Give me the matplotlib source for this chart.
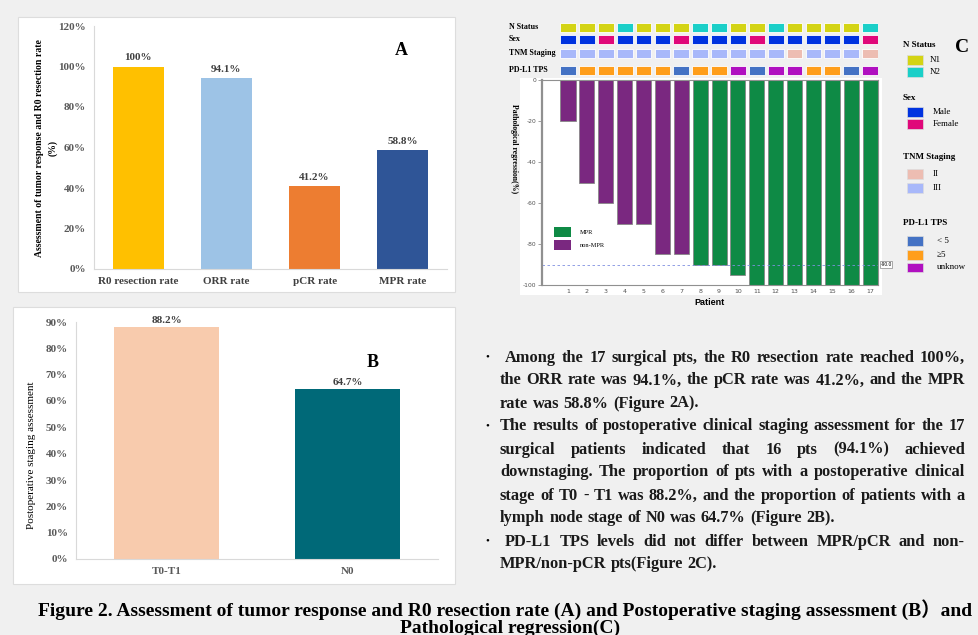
import matplotlib.pyplot as plt
from matplotlib.patches import Rectangle

plt.rcParams['axes.unicode_minus'] = False

W, H = 979, 635
SERIF = 'Liberation Serif'

# panel A data
a_labels = ['R0 resection rate', 'ORR rate', 'pCR rate', 'MPR rate']
a_values = [100, 94.1, 41.2, 58.8]
a_colors = ['#FFC000', '#9DC3E6', '#ED7D31', '#2F5597']

# panel B data
b_labels = ['T0-T1', 'N0']
b_values = [88.2, 64.7]
b_colors = ['#F8CBAD', '#006978']

# panel C data
patients = list(range(1, 18))
regression = [-20, -50, -60, -70, -70, -85, -85, -90, -90, -95,
              -100, -100, -100, -100, -100, -100, -100]
response = ['non-MPR'] * 7 + ['MPR'] * 10
n_status = ['N1', 'N1', 'N1', 'N2', 'N1', 'N1', 'N1', 'N2', 'N2', 'N1',
            'N1', 'N2', 'N1', 'N1', 'N1', 'N1', 'N2']
sex = ['Male', 'Male', 'Female', 'Male', 'Male', 'Male', 'Female', 'Male', 'Male',
       'Male', 'Female', 'Male', 'Male', 'Male', 'Male', 'Male', 'Female']
tnm = ['III'] * 12 + ['II'] + ['III'] * 3 + ['II']
pdl1 = ['<5', '≥5', '≥5', '≥5', '≥5', '≥5', '<5', '≥5', '≥5', 'unknow',
        '<5', 'unknow', 'unknow', '≥5', '≥5', '<5', 'unknow']

resp_colors = {'MPR': '#0E8A45', 'non-MPR': '#7A2880'}
track_colors = {
    'N Status': {'N1': '#D4D414', 'N2': '#1ACFC8'},
    'Sex': {'Male': '#0033E0', 'Female': '#E0087A'},
    'TNM Staging': {'II': '#EDBDB2', 'III': '#A8B8FA'},
    'PD-L1 TPS': {'< 5': '#4472C4', '≥5': '#FF9E1B', 'unknow': '#B010C0'},
}
tracks = [('N Status', n_status), ('Sex', sex), ('TNM Staging', tnm),
          ('PD-L1 TPS', ['< 5' if v == '<5' else v for v in pdl1])]

bullets = [
    [' Among the 17 surgical pts, the R0 resection rate reached 100%,',
     'the ORR rate was 94.1%, the pCR rate  was 41.2%, and the MPR',
     'rate  was 58.8% (Figure 2A).'],
    ['The results of postoperative clinical staging assessment for the 17',
     'surgical patients indicated that 16 pts (94.1%) achieved',
     'downstaging. The proportion of pts with a postoperative clinical',
     'stage of T0 - T1 was 88.2%, and the proportion of patients with a',
     'lymph node stage of N0 was 64.7% (Figure 2B).'],
    [' PD-L1 TPS levels did not differ between MPR/pCR and non-',
     'MPR/non-pCR pts(Figure 2C).'],
]

fig = plt.figure(figsize=(W / 100, H / 100), dpi=100, facecolor='#F0F0F0')


def px_axes(x0, y0, x1, y1):
    return fig.add_axes([x0 / W, 1 - y1 / H, (x1 - x0) / W, (y1 - y0) / H])


def card(x0, y0, x1, y1, ec='#DDDDDD'):
    fig.patches.append(Rectangle((x0 / W, 1 - y1 / H), (x1 - x0) / W, (y1 - y0) / H,
                                 transform=fig.transFigure, fc='white', ec=ec,
                                 lw=0.8, zorder=-5))


def ftext(x, y, s, **kw):
    kw.setdefault('family', SERIF)
    return fig.text(x / W, 1 - y / H, s, **kw)


# ---------- panel A ----------
card(18, 17, 455, 292)
ax = px_axes(94, 26, 447, 269)
ax.patch.set_alpha(0)
xa = range(len(a_labels))
ax.bar(xa, a_values, width=0.58, color=a_colors)
for x, v in zip(xa, a_values):
    ax.text(x, v + 2, f'{v:g}%', ha='center', va='bottom', family=SERIF,
            fontweight='bold', fontsize=8, color='#404040')
ax.set_xlim(-0.5, 3.5)
ax.set_ylim(0, 120)
ax.set_yticks(range(0, 121, 20))
ax.set_yticklabels([f'{t}%' for t in range(0, 121, 20)])
ax.set_xticks(list(xa))
ax.set_xticklabels(a_labels)
for s in ['top', 'right']:
    ax.spines[s].set_visible(False)
for s in ['left', 'bottom']:
    ax.spines[s].set_color('#D9D9D9')
ax.tick_params(length=0, labelsize=8, labelcolor='#595959', pad=6)
for lab in ax.get_xticklabels() + ax.get_yticklabels():
    lab.set_family(SERIF)
    lab.set_fontweight('bold')
for lab in ax.get_xticklabels():
    lab.set_color('#404040')
ax.text(0.87, 0.9, 'A', transform=ax.transAxes, family=SERIF, fontweight='bold',
        fontsize=13, ha='center', va='center')
ftext(40, 148, 'Assessment of tumor response and R0 resection rate', rotation=90,
      ha='center', va='center', fontsize=7.0, fontweight='bold')
ftext(53, 148, '(%)', rotation=90, ha='center', va='center', fontsize=7.0,
      fontweight='bold')

# ---------- panel B ----------
card(13, 307, 455, 584)
bx = px_axes(76, 322, 438, 559)
bx.patch.set_alpha(0)
xb = range(len(b_labels))
bx.bar(xb, b_values, width=0.575, color=b_colors)
for x, v in zip(xb, b_values):
    bx.text(x, v + 0.8, f'{v:g}%', ha='center', va='bottom', family=SERIF,
            fontweight='bold', fontsize=8, color='#404040')
bx.set_xlim(-0.5, 1.5)
bx.set_ylim(0, 90)
bx.set_yticks(range(0, 91, 10))
bx.set_yticklabels([f'{t}%' for t in range(0, 91, 10)])
bx.set_xticks(list(xb))
bx.set_xticklabels(b_labels)
for s in ['top', 'right']:
    bx.spines[s].set_visible(False)
for s in ['left', 'bottom']:
    bx.spines[s].set_color('#D9D9D9')
bx.tick_params(length=0, labelsize=8, labelcolor='#595959', pad=6)
for lab in bx.get_xticklabels() + bx.get_yticklabels():
    lab.set_family(SERIF)
    lab.set_fontweight('bold')
bx.text(0.82, 0.83, 'B', transform=bx.transAxes, family=SERIF, fontweight='bold',
        fontsize=13, ha='center', va='center')
ftext(32, 455, 'Postoperative staging assessment', rotation=90, ha='center',
      va='center', fontsize=8)

# ---------- panel C ----------
card(520, 78, 882, 295, ec='none')
cx = px_axes(542, 80, 878, 285)
cx.bar(patients, regression, width=0.8, color=[resp_colors[r] for r in response],
       edgecolor='#888888', lw=0.6)
cx.axhline(-90, color='#7F8FE0', ls=(0, (3, 3)), lw=0.6)
cx.text(17.55, -90, '-90.0', fontsize=3.5, va='center', ha='left', family='Liberation Sans',
        bbox=dict(boxstyle='square,pad=0.15', fc='white', ec='#888888', lw=0.5))
cx.set_xlim(-0.38, 17.42)
cx.set_ylim(-100, 0)
cx.set_yticks(range(-100, 1, 20))
cx.set_xticks(patients)
for s in cx.spines.values():
    s.set_color('#909090')
    s.set_linewidth(0.8)
cx.spines['left'].set_linewidth(1.6)
cx.tick_params(axis='y', length=3, width=0.6, color='#909090', labelsize=4.3,
               labelcolor='#505050', pad=1)
cx.tick_params(axis='x', length=0, labelsize=4.5, labelcolor='#505050', pad=3)
cx.set_xlabel('Patient', family='Liberation Sans', fontweight='bold', fontsize=6.5,
              labelpad=3)
ftext(514, 149, 'Pathological regression(%)', rotation=270, ha='center', va='center',
      fontsize=5.6, fontweight='bold')
handles = [Rectangle((0, 0), 1, 1, fc=resp_colors[k]) for k in ['MPR', 'non-MPR']]
cx.legend(handles, ['MPR', 'non-MPR'], loc='upper left', bbox_to_anchor=(0.02, 0.31),
          frameon=False, prop={'family': SERIF, 'size': 4.5}, handlelength=2.6,
          handleheight=2.0, labelspacing=0.6, handletextpad=1.5)

# annotation tracks above the waterfall
hx = px_axes(542, 18, 878, 78)
hx.set_xlim(-0.38, 17.42)
hx.set_ylim(78, 18)
hx.axis('off')
row_y = [27, 39, 53, 70]
for (name, vals), y in zip(tracks, row_y):
    hx.bar(patients, [9] * len(vals), bottom=y - 4.5, width=0.84,
           color=[track_colors[name][v] for v in vals], edgecolor='white', lw=0.6)
    ftext(509, y, name, ha='left', va='center', fontsize=5.8, fontweight='bold')

# right-hand legend
ftext(962, 47, 'C', ha='center', va='center', fontsize=14, fontweight='bold')
leg_title_y = [45, 98, 157, 223]
leg_item_y = [[60, 72], [112, 124], [174, 188], [241, 255, 267]]
leg_text_x = [930, 933, 933, 937]
for (name, _), ty, iys, tx in zip(tracks, leg_title_y, leg_item_y, leg_text_x):
    ftext(903, ty, name, ha='left', va='center', fontsize=6.5, fontweight='bold')
    for (lab, col), iy in zip(track_colors[name].items(), iys):
        fig.patches.append(Rectangle((907 / W, 1 - (iy + 4.5) / H), 16 / W, 9 / H,
                                     transform=fig.transFigure, fc=col, ec='#DDDDDD',
                                     lw=0.5))
        ftext(tx, iy, lab, ha='left', va='center', fontsize=6.5)

# ---------- bullet text ----------
renderer = fig.canvas.get_renderer()
line_y = 357
for para in bullets:
    ftext(487, line_y, '•', ha='center', va='center', fontsize=8)
    for i, line in enumerate(para):
        last = i == len(para) - 1
        x0 = 505 if line.startswith(' ') else 500
        words = line.split()
        texts = [ftext(0, line_y + 4.5, w, ha='left', va='baseline', fontsize=11.8,
                       fontweight='bold', color='#1A1A1A') for w in words]
        widths = [t.get_window_extent(renderer).width for t in texts]
        gap = 4.5 if last else (965 - x0 - sum(widths)) / (len(words) - 1)
        x = x0
        for t, w in zip(texts, widths):
            t.set_x(x / W)
            x += w + gap
        line_y += 23

# ---------- caption ----------
ftext(38, 610, 'Figure 2. Assessment of tumor response and R0 resection rate (A) and '
      'Postoperative staging assessment (B）and', ha='left', va='center', fontsize=14,
      fontweight='bold', family=[SERIF, 'Noto Sans CJK SC'])
ftext(510, 628, 'Pathological regression(C)', ha='center', va='center', fontsize=14,
      fontweight='bold')

fig.savefig('out.png', dpi=100, facecolor=fig.get_facecolor())
